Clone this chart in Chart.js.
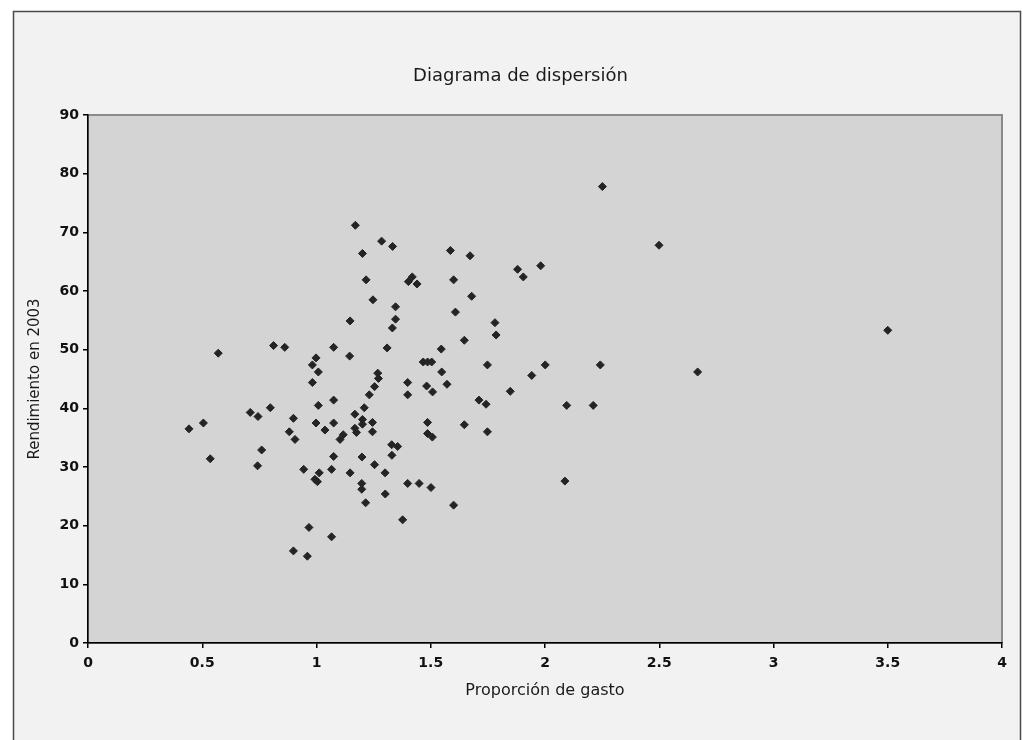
<!DOCTYPE html>
<html>
<head>
<meta charset="utf-8">
<script src="https://cdn.jsdelivr.net/npm/chart.js@4.4.1/dist/chart.umd.min.js"></script>
<style>
html,body{margin:0;padding:0;background:#fff;}
#wrap{width:1023px;height:740px;position:relative;}
canvas{display:block;}
</style>
</head>
<body>
<div id="wrap"><canvas id="c" width="1023" height="740"></canvas></div>
<script>
const chartTitle = "Diagrama de dispersión";
const xAxisTitle = "Proporción de gasto";
const yAxisTitle = "Rendimiento en 2003";

const gastoX = [
0.442,0.505,0.535,0.570,0.710,0.744,0.760,0.742,0.798,0.812,
0.861,0.881,0.899,0.906,0.899,0.960,0.967,0.944,0.982,0.998,
1.008,0.982,1.008,0.998,1.037,0.993,1.012,1.004,1.066,1.066,
1.075,1.075,1.075,1.075,1.103,1.117,1.145,1.147,1.147,1.168,
1.168,1.175,1.170,1.201,1.209,1.201,1.201,1.199,1.198,1.198,
1.215,1.217,1.231,1.245,1.245,1.247,1.254,1.254,1.268,1.271,
1.285,1.300,1.301,1.309,1.329,1.330,1.332,1.333,1.346,1.346,
1.355,1.377,1.399,1.399,1.399,1.402,1.419,1.440,1.449,1.467,
1.486,1.504,1.482,1.486,1.486,1.501,1.507,1.508,1.546,1.548,
1.571,1.586,1.600,1.600,1.608,1.647,1.647,1.672,1.679,1.711,
1.742,1.748,1.748,1.781,1.786,1.848,1.880,1.905,1.942,1.981,
2.001,2.087,2.095,2.211,2.242,2.251,2.499,2.668,3.500
];
const rendimientoY = [
36.5,37.5,31.4,49.4,39.3,38.6,32.9,30.2,40.1,50.7,
50.4,36.0,38.3,34.7,15.7,14.8,19.7,29.6,47.4,48.6,
46.2,44.4,40.5,37.5,36.3,27.9,29.0,27.5,29.6,18.1,
50.4,41.4,37.5,31.8,34.7,35.5,48.9,54.9,29.0,39.0,
36.6,35.9,71.2,66.4,40.1,38.1,37.3,31.7,27.2,26.2,
23.9,61.9,42.3,37.6,36.0,58.5,43.7,30.4,46.0,45.1,
68.5,29.0,25.4,50.3,33.8,32.0,53.7,67.6,57.3,55.2,
33.5,21.0,44.4,42.3,27.2,61.6,62.4,61.2,27.2,47.9,
47.9,47.9,43.8,37.6,35.7,26.5,35.1,42.8,50.1,46.2,
44.1,66.9,61.9,23.5,56.4,51.6,37.2,66.0,59.1,41.4,
40.7,47.4,36.0,54.6,52.5,42.9,63.7,62.4,45.6,64.3,
47.4,27.6,40.5,40.5,47.4,77.8,67.8,46.2,53.3
];
const xTickLabels = ["0","0.5","1","1.5","2","2.5","3","3.5","4"];
const yTickLabels = ["0","10","20","30","40","50","60","70","80","90"];

const points = gastoX.map((x, i) => ({x: x, y: rendimientoY[i]}));

const frame = {
  id: 'frame',
  beforeDraw(chart) {
    const ctx = chart.ctx;
    const a = chart.chartArea;
    ctx.save();
    ctx.fillStyle = '#ffffff';
    ctx.fillRect(0, 0, chart.width, chart.height);
    ctx.fillStyle = '#f2f2f2';
    ctx.fillRect(13.5, 11.5, 1007, 740);
    ctx.strokeStyle = '#4a4a4a';
    ctx.lineWidth = 1.5;
    ctx.strokeRect(13.5, 11.5, 1007, 740);
    ctx.fillStyle = '#d4d4d4';
    ctx.fillRect(a.left, a.top, a.right - a.left, a.bottom - a.top);
    ctx.strokeStyle = '#8a8a8a';
    ctx.lineWidth = 2;
    ctx.strokeRect(a.left, a.top, a.right - a.left, a.bottom - a.top);
    ctx.restore();
  }
};

new Chart(document.getElementById('c'), {
  type: 'scatter',
  data: {
    datasets: [{
      data: points,
      pointStyle: 'rectRot',
      pointRadius: 4,
      pointBackgroundColor: '#242424',
      pointBorderColor: '#242424',
      pointBorderWidth: 1
    }]
  },
  options: {
    responsive: false,
    animation: false,
    layout: { padding: { left: 18, right: 0, top: 0, bottom: 0 } },
    plugins: {
      legend: { display: false },
      tooltip: { enabled: false },
      title: {
        display: true,
        text: chartTitle,
        color: '#1a1a1a',
        font: { family: 'DejaVu Sans', size: 18, weight: 'normal', lineHeight: 1.2 },
        padding: { top: 66, bottom: 27.4 }
      }
    },
    scales: {
      x: {
        type: 'linear',
        min: 0, max: 4,
        afterFit(s) { s.height = 97; },
        grid: { display: true, drawOnChartArea: false, drawTicks: true, tickLength: 5, color: '#000', lineWidth: 1.5 },
        border: { display: true, color: '#000', width: 1.5 },
        ticks: {
          stepSize: 0.5,
          padding: 7,
          color: '#111',
          font: { family: 'DejaVu Sans', size: 14, weight: 'bold' },
          callback: (v) => xTickLabels[Math.round(v * 2)]
        },
        title: {
          display: true,
          text: xAxisTitle,
          color: '#1a1a1a',
          font: { family: 'DejaVu Sans', size: 16, weight: 'normal', lineHeight: 1.2 },
          padding: { top: 0, bottom: 40 }
        }
      },
      y: {
        type: 'linear',
        min: 0, max: 90,
        afterFit(s) { s.width = 70; },
        grid: { display: true, drawOnChartArea: false, drawTicks: true, tickLength: 5, color: '#000', lineWidth: 1.5 },
        border: { display: true, color: '#000', width: 1.5 },
        ticks: {
          stepSize: 10,
          padding: 4,
          color: '#111',
          font: { family: 'DejaVu Sans', size: 14, weight: 'bold' },
          callback: (v) => yTickLabels[Math.round(v / 10)]
        },
        title: {
          display: true,
          text: yAxisTitle,
          color: '#1a1a1a',
          font: { family: 'DejaVu Sans', size: 15, weight: 'normal', lineHeight: 1.2 },
          padding: { top: 8, bottom: 0 }
        }
      },
      yRightSpacer: {
        type: 'linear',
        position: 'right',
        display: true,
        afterFit(s) { s.width = 21; },
        grid: { display: false, drawTicks: false },
        border: { display: false },
        ticks: { display: false }
      }
    }
  },
  plugins: [frame]
});
</script>
</body>
</html>
